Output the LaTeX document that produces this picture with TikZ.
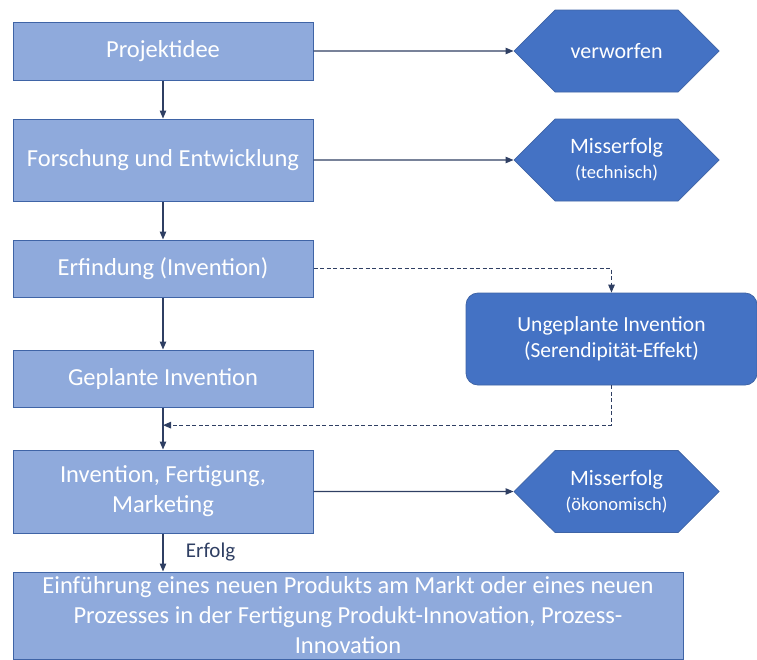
\documentclass[tikz,border=0pt]{standalone}
\usepackage{fontspec}
\setmainfont{Carlito}
\usetikzlibrary{shapes.symbols, arrows.meta, positioning, calc}
\usepackage{xcolor}
\definecolor{boxblue}{HTML}{8FAADC}
\definecolor{darkblue}{HTML}{4472C4}
\definecolor{edgeblue}{HTML}{3F64A6}
\definecolor{linenavy}{HTML}{2F3F63}
\tikzset{
    stage/.style = {rectangle, minimum width=300pt, minimum height=57pt, align=center, draw=edgeblue, line width=1pt, fill=boxblue, text=white, font=\fontsize{24.5}{30}\selectfont},
    outcome/.style = {signal, signal to=west and east, signal pointer angle=90, minimum width=205pt, minimum height=82pt, align=center, draw=edgeblue, line width=0.8pt, fill=darkblue, text=white, font=\fontsize{22}{25}\selectfont},
    chance/.style = {rectangle, rounded corners=12pt, minimum width=291pt, minimum height=92pt, align=center, draw=edgeblue, line width=0.8pt, fill=darkblue, text=white, font=\fontsize{21.5}{26}\selectfont},
    arrow/.style = {line width=1.2pt, draw=linenavy, -{Triangle[length=8pt,width=6.5pt]}},
    dasharrow/.style = {arrow, dash pattern=on 4pt off 2.5pt}
}

\begin{document}
\begin{tikzpicture}[node distance=109pt]
\useasboundingbox (0,0) rectangle (757pt,-659pt);
\node (proj) [stage, minimum height=58pt] at (163pt,-51pt) {Projektidee};
\node (fue) [stage, below of=proj, minimum height=82pt] {Forschung und Entwicklung};
\node (erf) [stage, below of=fue, yshift=0.5pt] {Erfindung (Invention)};
\node (geo) [stage, below of=erf, yshift=-1pt] {Geplante Invention};
\node (ifm) [stage, below of=geo, yshift=-4pt, minimum height=83pt] {Invention, Fertigung,\\Marketing};
\node (ein) [stage, below of=ifm, yshift=-15pt, xshift=185pt, minimum width=670pt, minimum height=87pt] {Einführung eines neuen Produkts am Markt oder eines neuen\\Prozesses in der Fertigung Produkt-Innovation, Prozess-\\Innovation};
\node (verw) [outcome, right=200pt of proj] {verworfen};
\node (mist) [outcome, right=200pt of fue] {Misserfolg\\{\fontsize{18.5}{22}\selectfont(technisch)}};
\node (miso) [outcome, right=200pt of ifm] {Misserfolg\\{\fontsize{18.5}{22}\selectfont(ökonomisch)}};
\node (ung) [chance, right of=erf, xshift=339.5pt, yshift=-70.5pt] {Ungeplante Invention\\(Serendipität-Effekt)};
\coordinate (join) at ($(geo.south)!0.42!(ifm.north)$);
\coordinate (einin) at (ifm.south |- ein.north);

\draw [arrow] (proj) -- (fue);
\draw [arrow] (fue) -- (erf);
\draw [arrow] (erf) -- (geo);
\draw [arrow] (geo) -- (ifm);
\draw [arrow] (ifm) -- node[anchor=west, xshift=19pt, text=linenavy, font=\fontsize{21}{25}\selectfont] {Erfolg} (einin);
\draw [arrow] (proj) -- (verw);
\draw [arrow] (fue) -- (mist);
\draw [arrow] (ifm) -- (miso);
\draw [dasharrow] (erf) -| (ung);
\draw [dasharrow] (ung) |- (join);
\end{tikzpicture}
\end{document}
